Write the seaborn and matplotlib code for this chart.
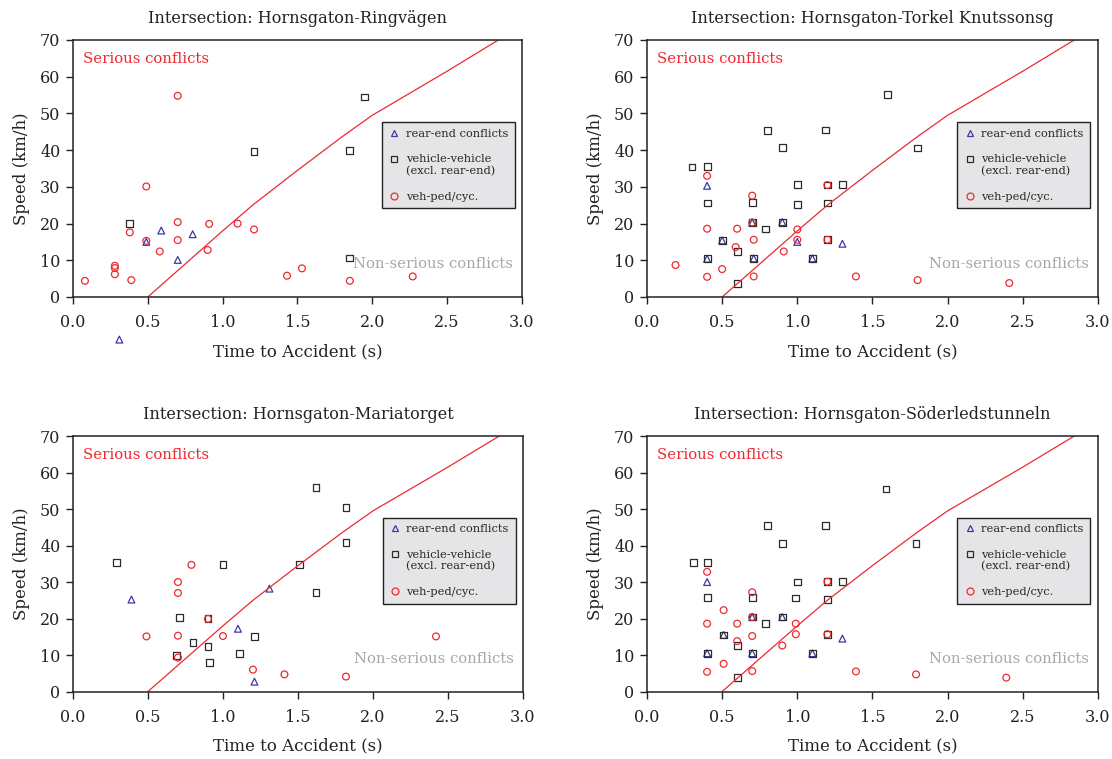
import matplotlib
matplotlib.use("Agg")
import matplotlib.pyplot as plt
from matplotlib.lines import Line2D
import numpy as np
import pandas as pd
import seaborn as sns

sns.set_style("ticks")
plt.rcParams["font.family"] = ["DejaVu Serif"]

# severity boundary (time to accident vs speed)
curve_t = [0.5, 1.0, 1.2, 1.5, 1.8, 2.0, 2.5, 2.85]
curve_v = [0.0, 18.0, 25.0, 34.5, 43.7, 49.5, 61.5, 70.2]

titles = [
    "Intersection: Hornsgaton-Ringvägen",
    "Intersection: Hornsgaton-Torkel Knutssonsg",
    "Intersection: Hornsgaton-Mariatorget",
    "Intersection: Hornsgaton-Söderledstunneln",
]

# Ringvägen
ring_rear_t = [0.49, 0.59, 0.70, 0.80, 0.31]
ring_rear_v = [15.0, 18.1, 10.1, 17.1, -11.6]
ring_veh_t = [0.38, 1.21, 1.85, 1.95, 1.85]
ring_veh_v = [20.1, 39.6, 39.9, 54.5, 10.6]
ring_ped_t = [0.08, 0.28, 0.28, 0.28, 0.39, 0.38, 0.49, 0.49, 0.58, 0.70,
              0.70, 0.70, 0.91, 0.90, 1.10, 1.21, 1.43, 1.53, 1.85, 2.27]
ring_ped_v = [4.4, 6.2, 7.9, 8.5, 4.6, 17.6, 30.1, 15.3, 12.4, 54.8,
              20.4, 15.5, 19.9, 12.8, 20.0, 18.4, 5.8, 7.8, 4.4, 5.6]

# Torkel Knutssonsgatan
tork_rear_t = [0.40, 0.40, 0.50, 0.70, 0.71, 0.90, 1.00, 1.10, 1.30]
tork_rear_v = [30.3, 10.4, 15.4, 20.3, 10.5, 20.4, 15.0, 10.5, 14.5]
tork_veh_t = [0.30, 0.40, 0.40, 0.40, 0.50, 0.60, 0.60, 0.70, 0.70, 0.71, 0.80, 0.79,
              0.90, 0.90, 1.00, 1.00, 1.10, 1.19, 1.20, 1.20, 1.20, 1.30, 1.60, 1.80]
tork_veh_v = [35.4, 35.5, 25.6, 10.4, 15.4, 12.4, 3.7, 25.7, 20.3, 10.5, 45.4, 18.5,
              40.7, 20.3, 30.6, 25.3, 10.5, 45.5, 30.5, 25.6, 15.6, 30.6, 55.2, 40.6]
tork_ped_t = [0.19, 0.40, 0.40, 0.40, 0.50, 0.60, 0.59, 0.70, 0.71, 0.71, 0.70,
              0.91, 1.00, 1.00, 1.20, 1.20, 1.39, 1.80, 2.41]
tork_ped_v = [8.7, 33.0, 18.6, 5.5, 7.6, 18.6, 13.6, 27.6, 15.6, 5.6, 20.3,
              12.4, 18.4, 15.6, 30.5, 15.6, 5.6, 4.6, 3.8]

# Mariatorget
mari_rear_t = [0.39, 1.10, 1.31, 1.21]
mari_rear_v = [25.2, 17.2, 28.2, 2.7]
mari_veh_t = [0.29, 0.71, 0.90, 0.80, 0.69, 0.90, 0.91, 1.00, 1.11, 1.21,
              1.51, 1.62, 1.82, 1.82, 1.62]
mari_veh_v = [35.3, 20.2, 19.9, 13.4, 9.8, 12.4, 7.9, 34.9, 10.4, 15.1,
              34.7, 55.8, 50.5, 40.8, 27.1]
mari_ped_t = [0.49, 0.70, 0.70, 0.70, 0.70, 0.79, 0.90, 1.00, 1.20, 1.41, 1.82, 2.42]
mari_ped_v = [15.1, 30.0, 27.0, 15.3, 9.3, 34.7, 19.9, 15.2, 6.0, 4.7, 4.1, 15.1]

# Söderledstunneln
sode_rear_t = [0.40, 0.40, 0.51, 0.70, 0.70, 0.90, 1.10, 1.30]
sode_rear_v = [30.0, 10.5, 15.5, 20.4, 10.5, 20.4, 10.5, 14.5]
sode_veh_t = [0.31, 0.40, 0.40, 0.40, 0.51, 0.60, 0.60, 0.70, 0.70, 0.70, 0.80, 0.79,
              0.90, 0.90, 1.00, 0.99, 1.10, 1.19, 1.20, 1.20, 1.20, 1.30, 1.59, 1.79]
sode_veh_v = [35.4, 35.4, 25.8, 10.5, 15.5, 12.6, 3.8, 25.7, 20.4, 10.5, 45.5, 18.6,
              40.6, 20.4, 30.0, 25.6, 10.5, 45.5, 30.1, 25.3, 15.7, 30.2, 55.5, 40.5]
sode_ped_t = [0.40, 0.51, 0.40, 0.40, 0.51, 0.60, 0.60, 0.70, 0.70, 0.70, 0.70,
              0.90, 0.99, 0.99, 1.20, 1.20, 1.39, 1.79, 2.39]
sode_ped_v = [32.8, 22.3, 18.6, 5.4, 7.6, 18.6, 13.8, 27.2, 15.2, 5.6, 20.4,
              12.6, 18.6, 15.7, 30.1, 15.7, 5.5, 4.7, 3.8]

panels = [
    (ring_rear_t, ring_rear_v, ring_veh_t, ring_veh_v, ring_ped_t, ring_ped_v),
    (tork_rear_t, tork_rear_v, tork_veh_t, tork_veh_v, tork_ped_t, tork_ped_v),
    (mari_rear_t, mari_rear_v, mari_veh_t, mari_veh_v, mari_ped_t, mari_ped_v),
    (sode_rear_t, sode_rear_v, sode_veh_t, sode_veh_v, sode_ped_t, sode_ped_v),
]

RED = "#ec2a32"
BLUE = "#3a3aa6"
BLACK = "#2b2b2b"
GRAY = "#a8a8a8"

styles = [("rear-end conflicts", "^", BLUE, 24),
          ("vehicle-vehicle\n(excl. rear-end)", "s", BLACK, 24),
          ("veh-ped/cyc.", "o", RED, 24)]

positions = [
    [0.0656, 0.6087, 0.4038, 0.3386],
    [0.5818, 0.6087, 0.4056, 0.3386],
    [0.0656, 0.0889, 0.4047, 0.3366],
    [0.5818, 0.0889, 0.4056, 0.3366],
]

fig = plt.figure(figsize=(11.12, 7.59), dpi=100)

for i, pdata in enumerate(panels):
    ax = fig.add_axes(positions[i])
    curve = pd.DataFrame({"t": curve_t, "v": curve_v})
    sns.lineplot(data=curve, x="t", y="v", ax=ax, color=RED, lw=0.9, sort=False)

    for k, (label, marker, color, size) in enumerate(styles):
        df = pd.DataFrame({"t": pdata[2 * k], "v": pdata[2 * k + 1]})
        sns.scatterplot(data=df, x="t", y="v", ax=ax, marker=marker, s=size,
                        color=color, linewidth=0.9)
        pts = ax.collections[-1]
        pts.set_facecolor("none")
        pts.set_edgecolor(color)
        pts.set_clip_on(False)

    ax.set_xlim(0, 3.0)
    ax.set_ylim(0, 70)
    ax.set_xticks(np.arange(0, 3.01, 0.5))
    ax.set_xticklabels([f"{v:.1f}" for v in np.arange(0, 3.01, 0.5)])
    ax.set_yticks(range(0, 71, 10))
    ax.tick_params(direction="out", length=5, width=1, labelsize=11.5,
                   colors="#222222")
    ax.tick_params(axis="x", pad=7.5)
    ax.tick_params(axis="y", pad=4)
    for sp in ax.spines.values():
        sp.set_visible(True)
        sp.set_color("#222222")
        sp.set_linewidth(1.1)

    ax.set_title(titles[i], fontsize=11.6, pad=12.5, color="#222222")
    ax.set_xlabel("Time to Accident (s)", fontsize=12, labelpad=8.5, color="#222222")
    ax.set_ylabel("Speed (km/h)", fontsize=12, labelpad=7, color="#222222")

    ax.text(0.022, 0.925, "Serious conflicts", transform=ax.transAxes,
            color=RED, fontsize=10.7, va="center", ha="left")
    ax.text(0.98, 0.128, "Non-serious conflicts", transform=ax.transAxes,
            color=GRAY, fontsize=10.7, va="center", ha="right")

    handles = [Line2D([], [], ls="none", marker=m, mfc="none", mec=c, mew=0.9, ms=5)
               for (_, m, c, _) in styles]
    leg = ax.legend(handles, [s[0] for s in styles], loc="upper left",
                    bbox_to_anchor=(0.688, 0.681), borderaxespad=0, fontsize=8.2,
                    frameon=True, fancybox=False, framealpha=1,
                    facecolor="#e5e5e7", edgecolor="#222222", labelspacing=1.35,
                    handlelength=1.0, handletextpad=0.5, borderpad=0.6)
    leg.get_frame().set_linewidth(1.0)
    # put the square next to the first line of its two-line label
    sq = leg.legend_handles[1]
    sq.set_ydata([y + 4.8 for y in sq.get_ydata()])

fig.savefig("out.png", dpi=100)
